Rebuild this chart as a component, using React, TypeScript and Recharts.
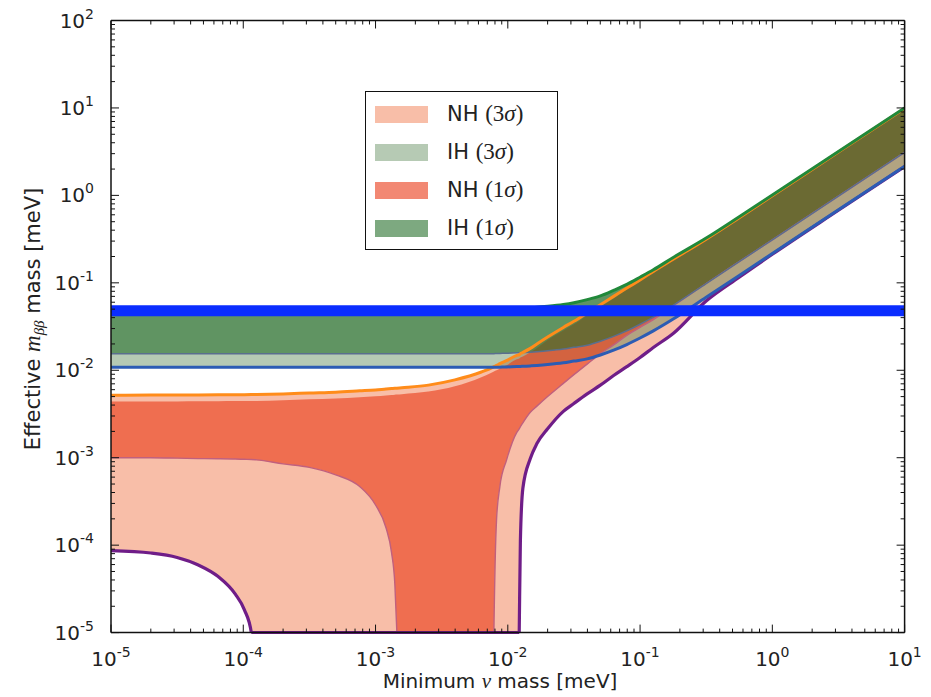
import {
  ComposedChart,
  Area,
  Line,
  XAxis,
  YAxis,
  ReferenceLine,
  Legend,
} from "recharts";

// lightest neutrino mass grid [meV]
const minMass = [
  1.0e-5, 2.0e-5, 3.16e-5, 4.57e-5, 6.46e-5, 8.71e-5, 1.02e-4, 1.15e-4,
  1.26e-4, 2.0e-4, 3.16e-4, 5.0e-4, 7.59e-4, 1.0e-3, 1.2e-3, 1.32e-3,
  1.4e-3, 1.45e-3, 1.58e-3, 2.51e-3, 3.98e-3, 6.31e-3, 7.59e-3, 7.85e-3,
  8.22e-3, 8.71e-3, 9.77e-3, 1.17e-2, 1.22e-2, 1.245e-2, 1.3e-2, 1.48e-2,
  1.66e-2, 2.0e-2, 2.63e-2, 3.16e-2, 3.98e-2, 5.01e-2, 6.31e-2, 7.94e-2,
  0.1, 0.126, 0.178, 0.316, 0.562, 1, 3.16, 10,
];

// m_bb can cancel to zero: those points sit under the 1e-5 floor and get clipped
const Z = 1e-7;

// normal hierarchy, 3 sigma
const nh3High = [
  5.19e-3, 5.2e-3, 5.21e-3, 5.22e-3, 5.24e-3, 5.25e-3, 5.26e-3, 5.27e-3,
  5.28e-3, 5.37e-3, 5.5e-3, 5.62e-3, 5.82e-3, 5.96e-3, 6.1e-3, 6.17e-3,
  6.21e-3, 6.24e-3, 6.31e-3, 6.76e-3, 7.76e-3, 9.55e-3, 1.07e-2, 1.1e-2,
  1.135e-2, 1.19e-2, 1.29e-2, 1.48e-2, 1.51e-2, 1.55e-2, 1.6e-2, 1.78e-2,
  2.0e-2, 2.4e-2, 3.09e-2, 3.63e-2, 4.52e-2, 5.62e-2, 7.0e-2, 8.71e-2,
  0.108, 0.135, 0.186, 0.316, 0.556, 0.989, 3.13, 9.89,
];
const nh3Low = [
  8.65e-5, 8.13e-5, 7.24e-5, 5.93e-5, 4.37e-5, 2.75e-5, 1.82e-5, 1.0e-5,
  Z, Z, Z, Z, Z, Z, Z, Z,
  Z, Z, Z, Z, Z, Z, Z, Z,
  Z, Z, Z, Z, 1.0e-5, 1.12e-4, 4.47e-4, 9.77e-4,
  1.45e-3, 2.14e-3, 3.39e-3, 4.17e-3, 5.37e-3, 6.76e-3, 8.71e-3, 1.1e-2,
  1.4e-2, 1.82e-2, 2.63e-2, 6.2e-2, 0.116, 0.212, 0.676, 2.14,
];

// normal hierarchy, 1 sigma
const nh1High = [
  4.39e-3, 4.39e-3, 4.4e-3, 4.41e-3, 4.43e-3, 4.44e-3, 4.44e-3, 4.45e-3,
  4.46e-3, 4.54e-3, 4.65e-3, 4.75e-3, 4.92e-3, 5.04e-3, 5.15e-3, 5.21e-3,
  5.25e-3, 5.27e-3, 5.33e-3, 5.71e-3, 6.56e-3, 8.32e-3, 9.43e-3, 9.69e-3,
  1.0e-2, 1.05e-2, 1.14e-2, 1.335e-2, 1.36e-2, 1.4e-2, 1.44e-2, 1.61e-2,
  1.8e-2, 2.22e-2, 2.85e-2, 3.35e-2, 4.27e-2, 5.31e-2, 6.61e-2, 8.41e-2,
  0.104, 0.13, 0.182, 0.309, 0.543, 0.966, 3.06, 9.66,
];
const nh1Low = [
  1.0e-3, 1.0e-3, 9.89e-4, 9.77e-4, 9.73e-4, 9.66e-4, 9.59e-4, 9.55e-4,
  9.44e-4, 8.51e-4, 7.76e-4, 6.38e-4, 4.68e-4, 2.88e-4, 1.58e-4, 8.32e-5,
  3.55e-5, 1.0e-5, Z, Z, Z, Z, Z, 1.0e-5,
  1.95e-4, 4.68e-4, 9.33e-4, 1.95e-3, 2.14e-3, 2.26e-3, 2.51e-3, 3.31e-3,
  3.89e-3, 5.01e-3, 7.08e-3, 8.91e-3, 1.175e-2, 1.55e-2, 1.95e-2, 2.51e-2,
  3.09e-2, 3.8e-2, 5.43e-2, 9.82e-2, 0.175, 0.31, 0.982, 3.1,
];

// inverted hierarchy (upper edge shared by both bands)
const ihHigh = [
  0.05, 0.05, 0.05, 0.05, 0.05, 0.05, 0.05, 0.05,
  0.05, 0.05, 0.05, 0.05, 0.05, 0.05, 0.05, 0.05,
  0.05, 0.05, 0.05, 0.05, 0.05, 0.05, 0.0506, 0.0506,
  0.0507, 0.0508, 0.051, 0.0513, 0.0515, 0.0515, 0.0517, 0.0522,
  0.0527, 0.054, 0.0566, 0.0593, 0.0643, 0.0709, 0.082, 0.096,
  0.116, 0.141, 0.195, 0.325, 0.57, 1.01, 3.17, 10.0,
];
const ih3Low = [
  0.0108, 0.0108, 0.0108, 0.0108, 0.0108, 0.0108, 0.0108, 0.0108,
  0.0108, 0.0108, 0.0108, 0.0108, 0.0108, 0.0108, 0.0108, 0.0108,
  0.0108, 0.0108, 0.0108, 0.0108, 0.0108, 0.0108, 0.0108, 0.0108,
  0.01084, 0.01086, 0.0109, 0.01102, 0.01104, 0.01107, 0.0111, 0.01122,
  0.01135, 0.01161, 0.01216, 0.01274, 0.01349, 0.01496, 0.017, 0.0197,
  0.0234, 0.0282, 0.0385, 0.0684, 0.1216, 0.216, 0.684, 2.16,
];
const ih1Low = [
  0.0155, 0.0155, 0.0155, 0.0155, 0.0155, 0.0155, 0.0155, 0.0155,
  0.0155, 0.0155, 0.0155, 0.0155, 0.0155, 0.0155, 0.0155, 0.0155,
  0.0155, 0.0155, 0.0155, 0.0155, 0.0155, 0.0155, 0.0155, 0.0155,
  0.01557, 0.0156, 0.01565, 0.01582, 0.01585, 0.0159, 0.01594, 0.01611,
  0.0163, 0.01667, 0.01746, 0.0183, 0.01937, 0.0215, 0.0244, 0.0283,
  0.0336, 0.0405, 0.0553, 0.0982, 0.1746, 0.31, 0.982, 3.1,
];

// horizontal sensitivity band [meV]
const reach = 0.048;

const xDecades = [1e-5, 1e-4, 1e-3, 1e-2, 1e-1, 1, 10];
const yDecades = [1e-5, 1e-4, 1e-3, 1e-2, 1e-1, 1, 10, 100];

const legendItems = [
  { label: "NH", sigma: "3" },
  { label: "IH", sigma: "3" },
  { label: "NH", sigma: "1" },
  { label: "IH", sigma: "1" },
];

const rows = minMass.map((m, i) => ({
  m,
  nh3: [nh3Low[i], nh3High[i]],
  ih3: [ih3Low[i], ihHigh[i]],
  nh1: [nh1Low[i], nh1High[i]],
  ih1: [ih1Low[i], ihHigh[i]],
  nh3High: nh3High[i],
  nh3Low: nh3Low[i],
  nh1Low: nh1Low[i],
  ih3Low: ih3Low[i],
  ih1Low: ih1Low[i],
  ihHigh: ihHigh[i],
}));

// the chart is pulled over the body margin so its box is the whole window
const W = 931;
const H = 697;
const PLOT = { left: 111, top: 20.5, right: 904.6, bottom: 632.6 };
// each axis keeps a 1px band so it still gets drawn
const AX = 1;

const SANS = "'DejaVu Sans', sans-serif";
const SERIF = "'Liberation Serif', 'DejaVu Serif', serif";
const INK = "#222";

// band colours with their own alpha, painted NH3, IH3, NH1, IH1
const bands = [
  { key: "nh3", fill: "#f3936e", opacity: 0.6 },
  { key: "ih3", fill: "#51814c", opacity: 0.42 },
  { key: "nh1", fill: "#e93915", opacity: 0.6 },
  { key: "ih1", fill: "#27702b", opacity: 0.6 },
];

const withMinors = (decades: number[]) =>
  decades.flatMap((d, i) =>
    i === decades.length - 1 ? [d] : [d, 2 * d, 3 * d, 4 * d, 5 * d, 6 * d, 7 * d, 8 * d, 9 * d]
  );
const xTicks = withMinors(xDecades);
const yTicks = withMinors(yDecades);

const isDecade = (v: number) =>
  Math.abs(Math.log10(v) - Math.round(Math.log10(v))) < 1e-6;

function Pow10({ x, y, value, anchor }: { x: number; y: number; value: number; anchor: string }) {
  const e = Math.round(Math.log10(value));
  return (
    <text x={x} y={y} textAnchor={anchor} fontFamily={SANS} fontSize={20} fill={INK}>
      10<tspan dy={-9} fontSize={14}>{e < 0 ? `-${-e}` : `${e}`}</tspan>
    </text>
  );
}

const BottomTick = (props: any) => {
  const { x, payload } = props;
  const major = isDecade(payload.value);
  return (
    <g>
      <line x1={x} x2={x} y1={PLOT.bottom} y2={PLOT.bottom - (major ? 8 : 4)} stroke="#111" />
      {major && <Pow10 x={x} y={PLOT.bottom + 33} value={payload.value} anchor="middle" />}
    </g>
  );
};

const TopTick = (props: any) => {
  const { x, payload } = props;
  const major = isDecade(payload.value);
  return <line x1={x} x2={x} y1={PLOT.top} y2={PLOT.top + (major ? 8 : 4)} stroke="#111" />;
};

const LeftTick = (props: any) => {
  const { y, payload } = props;
  const major = isDecade(payload.value);
  return (
    <g>
      <line x1={PLOT.left} x2={PLOT.left + (major ? 8 : 4)} y1={y} y2={y} stroke="#111" />
      {major && <Pow10 x={PLOT.left - 17} y={y + 7} value={payload.value} anchor="end" />}
    </g>
  );
};

const RightTick = (props: any) => {
  const { y, payload } = props;
  const major = isDecade(payload.value);
  return <line x1={PLOT.right} x2={PLOT.right - (major ? 8 : 4)} y1={y} y2={y} stroke="#111" />;
};

const XTitle = () => (
  <text x={500} y={688} textAnchor="middle" fontFamily={SANS} fontSize={20} fill={INK}>
    Minimum <tspan fontFamily={SERIF} fontStyle="italic" fontSize={21}>ν</tspan> mass [meV]
  </text>
);

const YTitle = () => (
  <text
    x={40}
    y={319}
    transform="rotate(-90 40 319)"
    textAnchor="middle"
    fontFamily={SANS}
    fontSize={21}
    fill={INK}
  >
    Effective <tspan fontFamily={SERIF} fontStyle="italic" fontSize={23}>m</tspan>
    <tspan fontFamily={SERIF} fontStyle="italic" fontSize={15} dy={4}>ββ</tspan>
    <tspan dy={-4}> mass [meV]</tspan>
  </text>
);

function LegendBox() {
  return (
    <div
      style={{
        width: 193,
        height: 159,
        boxSizing: "border-box",
        border: "1.5px solid #111",
        background: "#fff",
        paddingTop: 3,
      }}
    >
      {legendItems.map((it, i) => (
        <div key={i} style={{ display: "flex", alignItems: "center", height: 38 }}>
          <span
            style={{
              display: "inline-block",
              width: 53,
              height: 17,
              marginLeft: 9,
              background: bands[i].fill,
              opacity: bands[i].opacity,
            }}
          />
          <span style={{ marginLeft: 19, fontFamily: SANS, fontSize: 21, color: INK, whiteSpace: "nowrap" }}>
            {it.label}{" "}
            <span style={{ fontFamily: SERIF, fontSize: 23 }}>
              ({it.sigma}<i>σ</i>)
            </span>
          </span>
        </div>
      ))}
    </div>
  );
}

const frame = { stroke: "#111", strokeWidth: 1.5 };

export default function App() {
  return (
    <div style={{ width: W, height: H, margin: "-8px 0 0 -8px" }}>
      <ComposedChart
        width={W}
        height={H}
        data={rows}
        margin={{
          top: PLOT.top - AX,
          right: W - PLOT.right - AX,
          bottom: H - PLOT.bottom - AX,
          left: PLOT.left - AX,
        }}
      >
        <XAxis
          dataKey="m"
          type="number"
          scale="log"
          domain={[1e-5, 10]}
          allowDataOverflow
          ticks={xTicks}
          interval={0}
          tick={BottomTick}
          tickLine={false}
          height={AX}
          axisLine={frame}
          label={<XTitle />}
        />
        <XAxis
          xAxisId="top"
          orientation="top"
          dataKey="m"
          type="number"
          scale="log"
          domain={[1e-5, 10]}
          allowDataOverflow
          ticks={xTicks}
          interval={0}
          tick={TopTick}
          tickLine={false}
          height={AX}
          axisLine={frame}
        />
        <YAxis
          type="number"
          scale="log"
          domain={[1e-5, 100]}
          allowDataOverflow
          ticks={yTicks}
          interval={0}
          tick={LeftTick}
          tickLine={false}
          width={AX}
          axisLine={frame}
          label={<YTitle />}
        />
        <YAxis
          yAxisId="right"
          orientation="right"
          type="number"
          scale="log"
          domain={[1e-5, 100]}
          allowDataOverflow
          ticks={yTicks}
          interval={0}
          tick={RightTick}
          tickLine={false}
          width={AX}
          axisLine={frame}
        />

        {bands.map((b) => (
          <Area
            key={b.key}
            dataKey={b.key}
            type="monotone"
            stroke="none"
            fill={b.fill}
            fillOpacity={b.opacity}
            isAnimationActive={false}
            activeDot={false}
          />
        ))}

        <Line dataKey="nh1Low" type="monotone" stroke="#c0607e" strokeWidth={1.4} dot={false} activeDot={false} isAnimationActive={false} />
        <Line dataKey="ih1Low" type="monotone" stroke="#5a6f8e" strokeWidth={1.5} dot={false} activeDot={false} isAnimationActive={false} />
        <Line dataKey="nh3Low" type="monotone" stroke="#6f1d88" strokeWidth={3.2} dot={false} activeDot={false} isAnimationActive={false} />
        <Line dataKey="nh3High" type="monotone" stroke="#ff8c1a" strokeWidth={3} dot={false} activeDot={false} isAnimationActive={false} />
        <Line dataKey="ih3Low" type="monotone" stroke="#2c5cb4" strokeWidth={3} dot={false} activeDot={false} isAnimationActive={false} />
        <Line dataKey="ihHigh" type="monotone" stroke="#21893a" strokeWidth={3} dot={false} activeDot={false} isAnimationActive={false} />

        <ReferenceLine
          segment={[
            { x: minMass[7], y: 1e-5 },
            { x: minMass[28], y: 1e-5 },
          ]}
          stroke="#6f1d88"
          strokeWidth={3}
        />
        <ReferenceLine y={reach} stroke="#0a2dff" strokeWidth={11} />

        <Legend
          layout="vertical"
          align="center"
          verticalAlign="middle"
          wrapperStyle={{ left: 365, top: 91, width: 193, height: 159 }}
          content={() => <LegendBox />}
        />
      </ComposedChart>
    </div>
  );
}
